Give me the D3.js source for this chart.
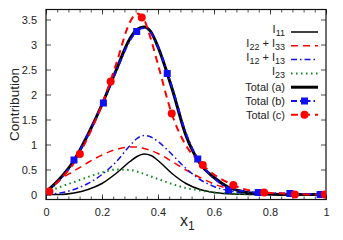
<!DOCTYPE html>
<html>
<head>
<meta charset="utf-8">
<script src="https://cdn.jsdelivr.net/npm/d3@7"></script>
<style>
body { margin: 0; background: #fff; }
text { font-family: "Liberation Sans", Arial, sans-serif; fill: #222; }
</style>
</head>
<body>
<svg id="chart" width="343" height="240"></svg>
<script>
var w = 343;
var h = 240;

// values
var xs = [0, 0.05, 0.1, 0.15, 0.2, 0.25, 0.3, 0.325, 0.35, 0.375, 0.4, 0.45, 0.5, 0.55, 0.6, 0.65, 0.7, 0.75, 0.8, 0.85, 0.9, 0.95, 1];
var i11 = [0, 0, 0.03, 0.1, 0.22, 0.42, 0.66, 0.76, 0.81, 0.78, 0.68, 0.42, 0.22, 0.1, 0.04, 0.015, 0.005, 0, 0, 0, 0, 0, 0];
var i22i33 = [0.07, 0.3, 0.47, 0.64, 0.79, 0.9, 0.95, 0.95, 0.92, 0.88, 0.82, 0.66, 0.49, 0.34, 0.21, 0.12, 0.06, 0.03, 0.01, 0, 0, 0, 0];
var i12i13 = [0, 0.03, 0.1, 0.22, 0.4, 0.65, 0.98, 1.12, 1.18, 1.15, 1.06, 0.8, 0.52, 0.3, 0.16, 0.08, 0.03, 0.01, 0, 0, 0, 0, 0];
var i23 = [0.04, 0.15, 0.25, 0.35, 0.44, 0.5, 0.49, 0.46, 0.41, 0.36, 0.31, 0.21, 0.13, 0.08, 0.04, 0.02, 0.01, 0, 0, 0, 0, 0, 0];
var totalA = [0.05, 0.32, 0.68, 1.2, 1.8, 2.48, 3.12, 3.3, 3.35, 3.25, 2.95, 2.12, 1.18, 0.62, 0.34, 0.15, 0.06, 0.02, 0.01, 0, 0, 0, 0];
var totalB = [0.05, 0.3, 0.67, 1.2, 1.8, 2.46, 3.08, 3.27, 3.33, 3.24, 2.96, 2.15, 1.22, 0.64, 0.33, 0.13, 0.07, 0.04, 0.03, 0.02, 0.01, 0.01, 0];
var totalC = [0.04, 0.3, 0.63, 1.15, 1.8, 2.6, 3.45, 3.62, 3.5, 3.1, 2.6, 1.6, 0.98, 0.64, 0.4, 0.24, 0.12, 0.06, 0.03, 0.02, 0.01, 0, 0];

var markB_x = [0.1, 0.205, 0.324, 0.433, 0.542, 0.652, 0.758, 0.871, 0.979];
var markB_y = [0.69, 1.83, 3.26, 2.42, 0.71, 0.09, 0.04, 0.02, 0];
var markC_x = [0.012, 0.121, 0.231, 0.342, 0.449, 0.56, 0.669, 0.779, 0.889, 0.996];
var markC_y = [0.06, 0.81, 2.26, 3.54, 1.62, 0.59, 0.19, 0.04, 0, 0];

var xTicks = [0, 0.2, 0.4, 0.6, 0.8, 1];
var yTicks = [0, 0.5, 1, 1.5, 2, 2.5, 3, 3.5];

var pLeft = 46, pRight = 326, pTop = 9.5, pBottom = 199.5;

var x = d3.scaleLinear().domain([0, 1]).range([pLeft, pRight]);
var y = d3.scaleLinear().domain([-0.1, 3.7]).range([pBottom, pTop]);

var svg = d3.select("#chart");

svg.append("defs").append("clipPath").attr("id", "clip")
    .append("rect")
    .attr("x", pLeft).attr("y", pTop)
    .attr("width", pRight - pLeft).attr("height", pBottom - pTop);

// axes with inward ticks, mirrored
var minorX = d3.range(0, 1.0001, 0.04);
function tickAxis(axis, scale, vals, len) {
    return axis(scale).tickValues(vals).tickSize(-len).tickFormat("");
}
svg.append("g").attr("transform", "translate(0," + pBottom + ")")
    .call(tickAxis(d3.axisBottom, x, minorX, 3));
svg.append("g").attr("transform", "translate(0," + pTop + ")")
    .call(tickAxis(d3.axisTop, x, minorX, 3));
svg.append("g").attr("transform", "translate(0," + pBottom + ")")
    .call(d3.axisBottom(x).tickValues(xTicks).tickSize(-5).tickPadding(9)
        .tickFormat(d3.format("")));
svg.append("g").attr("transform", "translate(0," + pTop + ")")
    .call(tickAxis(d3.axisTop, x, xTicks, 5));
svg.append("g").attr("transform", "translate(" + pLeft + ",0)")
    .call(d3.axisLeft(y).tickValues(yTicks).tickSize(-5).tickPadding(9)
        .tickFormat(d3.format("")));
svg.append("g").attr("transform", "translate(" + pRight + ",0)")
    .call(tickAxis(d3.axisRight, y, yTicks, 5));

svg.selectAll(".domain").remove();
svg.selectAll(".tick line").attr("stroke", "#222").attr("stroke-width", 0.8);
svg.selectAll(".tick text").style("font-size", "11px").attr("fill", "#222");

svg.append("rect")
    .attr("x", pLeft).attr("y", pTop)
    .attr("width", pRight - pLeft).attr("height", pBottom - pTop)
    .attr("fill", "none").attr("stroke", "#111").attr("stroke-width", 1.2);

// axis titles
svg.append("text")
    .attr("transform", "translate(14," + ((pTop + pBottom) / 2) + ") rotate(-90)")
    .attr("text-anchor", "middle")
    .attr("dy", "0.35em")
    .style("font-size", "13.5px")
    .text("Contribution");

var xl = svg.append("text")
    .attr("x", 180).attr("y", 226)
    .style("font-size", "16px");
xl.append("tspan").text("x");
xl.append("tspan").attr("dy", 4).style("font-size", "12px").text("1");

// series
var series = [
    { label: ["I", "11", ""], vals: i11, color: "#000", width: 1.5, dash: null },
    { label: ["I", "22", " + I", "33"], vals: i22i33, color: "#f00", width: 1.5, dash: "7,5" },
    { label: ["I", "12", " + I", "13"], vals: i12i13, color: "#1010f0", width: 1.5, dash: "6,3,1.5,3" },
    { label: ["I", "23", ""], vals: i23, color: "#0a8a1a", width: 2, dash: "1.5,3.5" },
    { label: ["Total (a)"], vals: totalA, color: "#000", width: 3, dash: null },
    { label: ["Total (b)"], vals: totalB, color: "#1010f0", width: 2, dash: "6,3,1.5,3", mark: "square", mx: markB_x, my: markB_y },
    { label: ["Total (c)"], vals: totalC, color: "#f00", width: 2, dash: "7,5", mark: "circle", mx: markC_x, my: markC_y }
];

var line = d3.line()
    .x(function(d) { return x(d[0]); })
    .y(function(d) { return y(d[1]); })
    .curve(d3.curveMonotoneX);

var plot = svg.append("g").attr("clip-path", "url(#clip)");

series.forEach(function(s) {
    var pts = xs.map(function(v, i) { return [v, s.vals[i]]; });
    plot.append("path")
        .attr("d", line(pts))
        .attr("fill", "none")
        .attr("stroke", s.color)
        .attr("stroke-width", s.width)
        .attr("stroke-dasharray", s.dash);
});

function drawMark(g, s, cx, cy) {
    if (s.mark == "square") {
        g.append("rect")
            .attr("x", cx - 3.5).attr("y", cy - 3.5)
            .attr("width", 7).attr("height", 7)
            .attr("fill", s.color);
    } else {
        g.append("circle")
            .attr("cx", cx).attr("cy", cy).attr("r", 4)
            .attr("fill", s.color);
    }
}

series.forEach(function(s) {
    if (!s.mark) return;
    s.mx.forEach(function(v, i) {
        drawMark(plot, s, x(v), y(s.my[i]));
    });
});

// legend
var legX = 285, legY = 32, legStep = 13.8;
series.forEach(function(s, i) {
    var cy = legY + i * legStep;
    var t = svg.append("text")
        .attr("x", legX).attr("y", cy)
        .attr("text-anchor", "end")
        .attr("dy", s.label.length > 1 ? "0.1em" : "0.35em")
        .style("font-size", "11px");
    if (s.label.length == 1) {
        t.text(s.label[0]);
    } else {
        t.append("tspan").text(s.label[0]);
        t.append("tspan").attr("dy", 3).style("font-size", "9px").text(s.label[1]);
        if (s.label[2]) {
            t.append("tspan").attr("dy", -3).text(s.label[2]);
            t.append("tspan").attr("dy", 3).style("font-size", "9px").text(s.label[3]);
        }
    }
    svg.append("line")
        .attr("x1", 291).attr("x2", 318)
        .attr("y1", cy).attr("y2", cy)
        .attr("stroke", s.color)
        .attr("stroke-width", s.width)
        .attr("stroke-dasharray", s.dash);
    if (s.mark) drawMark(svg, s, 304.5, cy);
});
</script>
</body>
</html>
